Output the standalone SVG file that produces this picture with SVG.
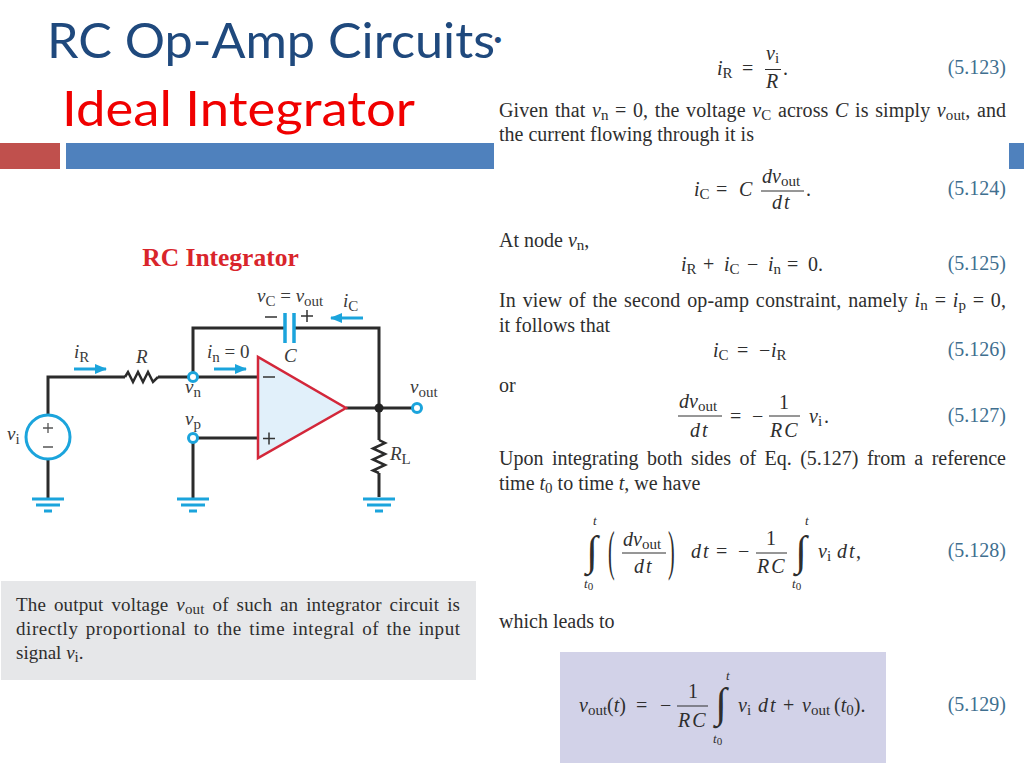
<svg xmlns="http://www.w3.org/2000/svg" width="1024" height="768" viewBox="0 0 1024 768">
<style>
text{font-family:"Liberation Serif","Times New Roman",serif;fill:#2e2e2e;font-size:20px}
.m{font-style:italic}
.s{font-size:15px;font-style:normal}
.ss{font-size:13px;font-style:italic}
.lb{fill:#3f6f8f;font-size:20px;text-anchor:end}
.mid{text-anchor:middle}
.sp{letter-spacing:2px}
.h{font-family:Lato,"Noto Sans",sans-serif;font-size:48px}
.c{fill:#3a3a3a;font-size:19px}
.wire{fill:none;stroke:#2b2b2b;stroke-width:3}
.zig{fill:none;stroke:#2b2b2b;stroke-width:2.500}
.cy{fill:none;stroke:#1ba4dc;stroke-width:3}
.bar{stroke:#2e2e2e;stroke-width:1;fill:none}
.int{font-size:42px;text-anchor:middle}
.n{font-size:19px}
</style>
<defs>
<marker id="arr" markerUnits="userSpaceOnUse" markerWidth="12" markerHeight="12" refX="11" refY="6" orient="auto"><path d="M0 1 L12 6 L0 11 Z" fill="#1ba4dc"/></marker>
<g id="gnd"><path class="cy" d="M-16 0H16M-12 6H12M-4 12H4"/></g>
</defs>
<rect width="1024" height="768" fill="#fff"/>

<g id="header">
<rect x="0" y="143" width="60" height="26" fill="#c0504d"/>
<rect x="66" y="143" width="428" height="26" fill="#4f81bd"/>
<rect x="1009" y="143" width="15" height="26" fill="#4f81bd"/>
<text class="h" x="47" y="58" textLength="448" lengthAdjust="spacingAndGlyphs" style="fill:#1f497d">RC Op-Amp Circuits</text>
<text x="494" y="47" style="fill:#1f497d;font-size:22px;font-family:'Liberation Sans',sans-serif">•</text>
<text class="h" x="62" y="126" textLength="353" lengthAdjust="spacingAndGlyphs" style="fill:#f00000">Ideal Integrator</text>
</g>

<g id="circuit-title"><text x="220.500" y="266" text-anchor="middle" style="font-weight:bold;font-size:25.500px;fill:#d9252b">RC Integrator</text></g>

<g id="connectors">
<path class="wire" d="M48 415V377H125"/>
<path class="zig" d="M125 377l3 -5 5 10 5 -10 5 10 5 -10 5 10 5 -5"/>
<path class="wire" d="M158 377H258"/>
<path class="wire" d="M193 377V328H285M294 328H379V440M379 473V497"/>
<path class="wire" d="M193 438H258M193 438V498"/>
<path class="wire" d="M346 408H417"/>
<path class="zig" d="M379 440l6 3 -12 5.500 12 5.500 -12 5.500 12 5.500 -12 5.500 6 2.500"/>
<path class="wire" d="M48 459V498"/>
<line class="cy" x1="74" y1="369" x2="106" y2="369" marker-end="url(#arr)"/>
<line class="cy" x1="214" y1="369" x2="246" y2="369" marker-end="url(#arr)"/>
<line class="cy" x1="363" y1="318" x2="331" y2="318" marker-end="url(#arr)"/>
</g>

<g id="opamp">
<path d="M258 357V458L346 408Z" fill="#e1f0fa" stroke="#d3273a" stroke-width="2.500"/>
<path d="M263 377H275M263 438.500H275M269 432.500V444.500" stroke="#333" stroke-width="1.500" fill="none"/>
</g>
<g id="capacitor"><path class="cy" d="M285 313V343M294 313V343" style="stroke-width:3.500"/>
<path d="M265 317H277M301 316H313M307 310V322" stroke="#333" stroke-width="1.500" fill="none"/></g>
<g id="source"><circle cx="48" cy="437" r="22" fill="#fff" stroke="#1ba4dc" stroke-width="3"/>
<path d="M43 428H53M48 423V433M43 447H53" stroke="#555" stroke-width="1.300" fill="none"/></g>
<g id="terminals">
<circle cx="193" cy="377" r="4.500" fill="#fff" stroke="#1ba4dc" stroke-width="3"/>
<circle cx="193" cy="438" r="4.500" fill="#fff" stroke="#1ba4dc" stroke-width="3"/>
<circle cx="417" cy="408" r="4.500" fill="#fff" stroke="#1ba4dc" stroke-width="3"/>
<circle cx="379" cy="408" r="4.500" fill="#222"/>
</g>
<g id="grounds">
<use href="#gnd" x="48" y="499"/><use href="#gnd" x="193" y="499"/><use href="#gnd" x="379" y="499"/>
</g>
<g id="circuit-labels">
<text class="c m" x="257" y="302">v<tspan class="s" dy="4">C</tspan><tspan dy="-4" style="font-style:normal"> = </tspan>v<tspan class="s" dy="4">out</tspan></text>
<text class="c m" x="343" y="307">i<tspan class="s" dy="4">C</tspan></text>
<text class="c m" x="74" y="358">i<tspan class="s" dy="4">R</tspan></text>
<text class="c m" x="136" y="363">R</text>
<text class="c m" x="207" y="358">i<tspan class="s" dy="4">n</tspan><tspan dy="-4" style="font-style:normal"> = 0</tspan></text>
<text class="c m" x="284" y="362">C</text>
<text class="c m" x="185" y="393">v<tspan class="s" dy="4">n</tspan></text>
<text class="c m" x="185" y="425">v<tspan class="s" dy="4">p</tspan></text>
<text class="c m" x="410" y="393">v<tspan class="s" dy="4">out</tspan></text>
<text class="c m" x="7" y="440">v<tspan class="s" dy="4">i</tspan></text>
<text class="c m" x="390" y="460">R<tspan class="s" dy="4">L</tspan></text>
</g>

<g id="note">
<rect x="1" y="581" width="475" height="99" fill="#e6e7e9"/>
<text class="n" x="16" y="611" textLength="444" word-spacing="3">The output voltage <tspan class="m">v</tspan><tspan class="s" dy="3">out</tspan><tspan dy="-3"> of such an integrator circuit is</tspan></text>
<text class="n" x="16" y="635" textLength="444" word-spacing="2">directly proportional to the time integral of the input</text>
<text class="n" x="16" y="659">signal <tspan class="m">v</tspan><tspan class="s" dy="3">i</tspan><tspan dy="-3">.</tspan></text>
</g>

<g id="body-text">
<text x="499" y="117" textLength="507" word-spacing="1.500">Given that <tspan class="m">v</tspan><tspan class="s" dy="3">n</tspan><tspan dy="-3"> = 0, the voltage </tspan><tspan class="m">v</tspan><tspan class="s" dy="3">C</tspan><tspan dy="-3"> across </tspan><tspan class="m">C</tspan> is simply <tspan class="m">v</tspan><tspan class="s" dy="3">out</tspan><tspan dy="-3">, and</tspan></text>
<text x="499" y="141">the current flowing through it is</text>
<text x="499" y="247">At node <tspan class="m">v</tspan><tspan class="s" dy="3">n</tspan><tspan dy="-3">,</tspan></text>
<text x="499" y="307" textLength="507" word-spacing="1.500">In view of the second op-amp constraint, namely <tspan class="m">i</tspan><tspan class="s" dy="3">n</tspan><tspan dy="-3"> = </tspan><tspan class="m">i</tspan><tspan class="s" dy="3">p</tspan><tspan dy="-3"> = 0,</tspan></text>
<text x="499" y="332">it follows that</text>
<text x="499" y="392">or</text>
<text x="499" y="465" textLength="507" word-spacing="3.500">Upon integrating both sides of Eq. (5.127) from a reference</text>
<text x="499" y="490">time <tspan class="m">t</tspan><tspan class="s" dy="3">0</tspan><tspan dy="-3"> to time </tspan><tspan class="m">t</tspan>, we have</text>
<text x="499" y="628">which leads to</text>
</g>

<g id="eq-5-123">
<text class="m" x="717" y="75">i<tspan class="s" dy="3">R</tspan></text><text x="742" y="75">=</text>
<text class="m" x="766" y="60">v<tspan class="s" dy="3">i</tspan></text><line class="bar" x1="765" y1="69.500" x2="781" y2="69.500"/><text class="m" x="766" y="88">R</text><text x="783" y="75">.</text>
<text class="lb" x="1006" y="74">(5.123)</text>
</g>
<g id="eq-5-124">
<text class="m" x="694" y="196">i<tspan class="s" dy="3">C</tspan></text><text x="716" y="196">=</text><text class="m" x="739" y="196">C</text>
<text class="m" x="762" y="183">dv<tspan class="s" dy="3">out</tspan></text><line class="bar" x1="761" y1="191" x2="804" y2="191"/><text class="m sp" x="772" y="209">dt</text><text x="806" y="196">.</text>
<text class="lb" x="1006" y="195">(5.124)</text>
</g>
<g id="eq-5-125">
<text class="m" x="681" y="271">i<tspan class="s" dy="3">R</tspan></text><text x="703" y="271">+</text><text class="m" x="724" y="271">i<tspan class="s" dy="3">C</tspan></text><text x="747" y="271">−</text><text class="m" x="768" y="271">i<tspan class="s" dy="3">n</tspan></text><text x="787" y="271">=</text><text x="808" y="271">0.</text>
<text class="lb" x="1006" y="270">(5.125)</text>
</g>
<g id="eq-5-126">
<text class="m" x="713" y="357">i<tspan class="s" dy="3">C</tspan></text><text x="737" y="357">=</text><text x="759" y="357">−</text><text class="m" x="771" y="357">i<tspan class="s" dy="3">R</tspan></text>
<text class="lb" x="1006" y="356">(5.126)</text>
</g>
<g id="eq-5-127">
<text class="m" x="679" y="408">dv<tspan class="s" dy="3">out</tspan></text><line class="bar" x1="678" y1="416" x2="722" y2="416"/><text class="m sp" x="690" y="437">dt</text>
<text x="730" y="423">=</text><text x="752" y="423">−</text>
<text class="mid" x="784" y="409">1</text><line class="bar" x1="769" y1="416" x2="800" y2="416"/><text class="m sp" x="770" y="437">RC</text>
<text class="m" x="809" y="423">v<tspan class="s" dy="3">i</tspan></text><text x="824" y="423">.</text>
<text class="lb" x="1006" y="422">(5.127)</text>
</g>
<g id="eq-5-128">
<text class="int" x="592" y="565">∫</text><text class="ss" x="593" y="525">t</text><text class="ss" x="584" y="588">t<tspan class="s" style="font-size:11px" dy="2">0</tspan></text>
<text transform="translate(608 569) scale(1 2.700)" style="font-size:20px">(</text>
<text class="m" x="623" y="546">dv<tspan class="s" dy="3">out</tspan></text><line class="bar" x1="622" y1="553" x2="666" y2="553"/><text class="m sp" x="634" y="573">dt</text>
<text transform="translate(668 569) scale(1 2.700)" style="font-size:20px">)</text>
<text class="m sp" x="691" y="558">dt</text><text x="716" y="558">=</text><text x="738" y="558">−</text>
<text class="mid" x="771" y="545">1</text><line class="bar" x1="756" y1="553" x2="787" y2="553"/><text class="m sp" x="757" y="573">RC</text>
<text class="int" x="801" y="565">∫</text><text class="ss" x="805" y="525">t</text><text class="ss" x="792" y="588">t<tspan class="s" style="font-size:11px" dy="2">0</tspan></text>
<text class="m" x="818" y="558">v<tspan class="s" dy="3">i</tspan></text><text class="m sp" x="837" y="558">dt</text><text x="856" y="558">,</text>
<text class="lb" x="1006" y="557">(5.128)</text>
</g>
<g id="eq-5-129">
<rect x="560" y="652" width="326" height="111" fill="#d2d2e8"/>
<text class="m" x="579" y="712">v<tspan class="s" dy="3">out</tspan></text><text x="607" y="712">(<tspan class="m">t</tspan>)</text><text x="636" y="712">=</text><text x="660" y="712">−</text>
<text class="mid" x="693" y="698">1</text><line class="bar" x1="677" y1="706" x2="708" y2="706"/><text class="m sp" x="678" y="727">RC</text>
<text class="int" x="721" y="717">∫</text><text class="ss" x="726" y="680">t</text><text class="ss" x="713" y="743">t<tspan class="s" style="font-size:11px" dy="2">0</tspan></text>
<text class="m" x="738" y="712">v<tspan class="s" dy="3">i</tspan></text><text class="m sp" x="758" y="712">dt</text><text x="783" y="712">+</text>
<text class="m" x="802" y="712">v<tspan class="s" dy="3">out</tspan></text><text x="834" y="712">(<tspan class="m">t</tspan><tspan class="s" dy="3">0</tspan><tspan dy="-3">).</tspan></text>
<text class="lb" x="1006" y="711">(5.129)</text>
</g>
</svg>
